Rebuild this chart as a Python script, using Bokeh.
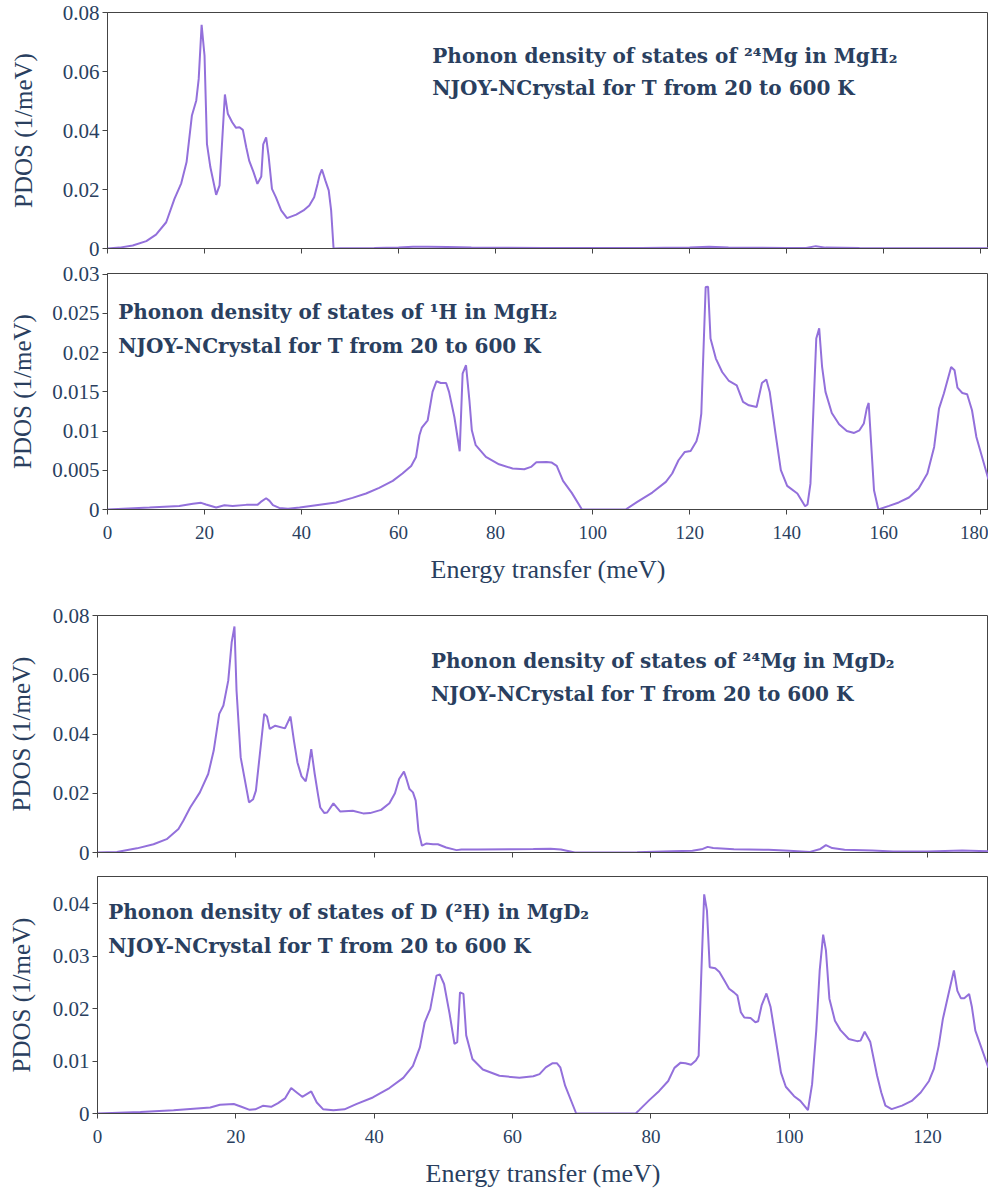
from bokeh.plotting import figure
from bokeh.models import Range1d, FixedTicker, Label
from bokeh.layouts import column
from bokeh.embed import file_html
from bokeh.resources import INLINE

# ---------------- data ----------------
# 24Mg in MgH2
mgh_e = [0, 2.5, 5.2, 8.0, 10.0, 12.1, 13.8, 15.2, 16.3, 17.4,
         18.3, 18.8, 19.4, 20.0, 20.5, 21.2, 22.4, 23.1, 24.2, 24.8,
         25.7, 26.5, 27.2, 27.9, 28.6, 29.2, 30.1, 30.9, 31.7, 32.1,
         32.7, 33.2, 33.9, 34.7, 35.8, 37.0, 38.9, 40.4, 41.6, 42.6,
         43.3, 43.7, 44.2, 44.9, 45.6, 46.1, 46.6, 48, 55, 60,
         63, 66, 70, 75, 90, 110, 120, 124, 128, 140,
         144, 146, 148, 155, 170, 181.6]
mgh_pdos = [0, 0.0003, 0.001, 0.0025, 0.0047, 0.0089, 0.0168, 0.0221, 0.0293, 0.0451,
            0.0502, 0.0575, 0.0758, 0.0654, 0.0355, 0.0276, 0.0182, 0.0214, 0.0522, 0.0457,
            0.0428, 0.0409, 0.0411, 0.0402, 0.0343, 0.0298, 0.0259, 0.0219, 0.0244, 0.0353,
            0.0377, 0.0315, 0.0202, 0.0174, 0.0129, 0.0103, 0.0115, 0.0129, 0.0146, 0.0174,
            0.0219, 0.0247, 0.0268, 0.0231, 0.0197, 0.0129, 0.0, 0.0001, 0.0002, 0.0003,
            0.0006, 0.0006, 0.0005, 0.0003, 0.0002, 0.0002, 0.0003, 0.0006, 0.0003, 0.0002,
            0.0002, 0.0008, 0.0003, 0.0002, 0.0001, 0.0001]

# 1H in MgH2
hh_e = [0, 8.65, 14.8, 17.6, 19.3, 20.3, 22.4, 24.1, 25.8, 28.6,
        30.9, 31.6, 32.7, 33.4, 34.1, 35.4, 37.2, 39.6, 43.0, 47.1,
        50.5, 53.3, 56.0, 58.8, 60.8, 62.6, 63.6, 64.3, 64.8, 66.0,
        67.0, 67.8, 68.7, 69.8, 70.4, 71.5, 72.6, 73.2, 73.9, 74.6,
        75.1, 75.9, 78.0, 80.7, 83.5, 85.9, 87.3, 88.4, 90.5, 91.5,
        92.6, 93.9, 95.7, 97.8, 106.8, 109.2, 112.3, 115.1, 116.4, 117.7,
        119.0, 120.2, 121.4, 121.9, 122.4, 123.3, 123.8, 124.3, 125.4, 126.7,
        128.1, 129.7, 131.0, 132.2, 133.8, 134.9, 135.8, 136.5, 137.7, 138.8,
        140.1, 142.2, 143.8, 144.3, 144.9, 146.1, 146.7, 147.3, 148.0, 149.3,
        150.8, 152.4, 153.9, 155.0, 155.9, 156.5, 156.9, 158.0, 158.9, 161.1,
        163.1, 165.2, 167.2, 169.0, 170.4, 171.4, 172.4, 173.9, 174.6, 175.2,
        176.2, 177.2, 178.2, 179.1, 181.6]
hh_pdos = [0, 0.00025, 0.00046, 0.00072, 0.00085, 0.00063, 0.00025, 0.00055, 0.00046, 0.00059,
           0.00059, 0.00097, 0.00144, 0.0011, 0.00055, 0.0002, 0.0001, 0.00025, 0.00055, 0.0009,
           0.00148, 0.00204, 0.00276, 0.00365, 0.00459, 0.00556, 0.0067, 0.00947, 0.01045, 0.01138,
           0.0150, 0.01635, 0.01614, 0.01614, 0.0150, 0.0118, 0.00743, 0.01733, 0.0184, 0.01393,
           0.0101, 0.0082, 0.0067, 0.00577, 0.00523, 0.00514, 0.00543, 0.00603, 0.00607, 0.0060,
           0.00556, 0.00365, 0.00212, 0.0, 0.0, 0.00097, 0.00216, 0.00352, 0.00459, 0.00628,
           0.00734, 0.00747, 0.0087, 0.0099, 0.01224, 0.02838, 0.0284, 0.0218, 0.01925, 0.01754,
           0.01639, 0.01584, 0.01372, 0.01329, 0.01308, 0.01614, 0.01657, 0.0150, 0.00969, 0.00501,
           0.00301, 0.00204, 0.00042, 0.00064, 0.0033, 0.0218, 0.0231, 0.01818, 0.0150, 0.01231,
           0.01087, 0.01002, 0.00976, 0.0101, 0.01096, 0.01287, 0.01359, 0.00246, 0.0, 0.00046,
           0.0009, 0.00153, 0.00268, 0.00459, 0.00798, 0.01287, 0.01479, 0.01818, 0.01776, 0.01555,
           0.01486, 0.0147, 0.01266, 0.00925, 0.00382]

# 24Mg in MgD2
mgd_e = [0, 2.8, 5.7, 8.1, 10.0, 11.7, 12.4, 13.4, 14.8, 16.0,
         16.8, 17.6, 18.2, 18.9, 19.4, 19.8, 20.1, 20.7, 21.9, 22.5,
         22.9, 24.1, 24.5, 24.9, 25.7, 27.1, 27.9, 28.4, 28.9, 29.5,
         30.1, 30.5, 30.9, 31.4, 31.9, 32.2, 32.8, 33.2, 34.1, 35.1,
         36.9, 38.4, 39.4, 41.0, 42.2, 43.0, 43.6, 44.3, 44.6, 45.1,
         45.6, 46.0, 46.4, 46.9, 47.5, 48.5, 49.2, 50.4, 51.9, 52.6,
         55, 60, 63, 65.5, 67, 69, 78, 83, 86, 87.5,
         88.2, 89, 92, 97, 100, 103, 104.5, 105.3, 106.2, 108,
         112, 115, 120, 125, 128.8]
mgd_pdos = [0, 0.0002, 0.0014, 0.0028, 0.0045, 0.0079, 0.0107, 0.0152, 0.0203, 0.0265,
            0.0344, 0.0468, 0.0496, 0.058, 0.071, 0.0763, 0.0546, 0.0321, 0.0169, 0.018,
            0.0209, 0.0468, 0.0459, 0.0417, 0.0428, 0.0419, 0.0459, 0.0377, 0.0304, 0.0257,
            0.024, 0.0287, 0.0349, 0.0265, 0.0192, 0.0152, 0.0133, 0.0135, 0.0166, 0.0138,
            0.0141, 0.0132, 0.0133, 0.0144, 0.0166, 0.02, 0.0248, 0.0273, 0.0253, 0.0214,
            0.0203, 0.0175, 0.0073, 0.0023, 0.003, 0.0028, 0.0028, 0.0017, 0.0008, 0.001,
            0.001, 0.0011, 0.0012, 0.0013, 0.001, 0.0, 0.0001, 0.0004, 0.0006, 0.0012,
            0.0019, 0.0015, 0.0011, 0.0009, 0.0006, 0.0002, 0.0012, 0.0025, 0.0015, 0.0009,
            0.0007, 0.0003, 0.0003, 0.0007, 0.0004]

# D in MgD2
dd_e = [0, 6.2, 11.0, 16.3, 17.7, 19.7, 20.8, 22.0, 22.8, 23.9,
        25.1, 26.1, 27.1, 28.0, 28.8, 29.6, 30.9, 31.7, 32.6, 34.1,
        35.7, 37.4, 39.8, 42.2, 44.2, 45.6, 46.6, 47.3, 48.1, 49.0,
        49.5, 50.1, 50.9, 51.6, 52.0, 52.4, 52.9, 53.3, 54.2, 55.7,
        58.1, 61.0, 63.0, 63.9, 64.8, 65.8, 66.4, 66.9, 67.6, 69.2,
        77.8, 78.3, 79.8, 81.2, 82.5, 83.4, 84.3, 85.0, 85.8, 86.5,
        86.9, 87.3, 87.7, 88.1, 88.5, 89.3, 89.9, 90.6, 91.3, 92.0,
        92.5, 93.0, 93.5, 94.4, 95.1, 95.5, 96.0, 96.7, 97.3, 98.0,
        98.8, 99.5, 100.7, 101.6, 102.7, 103.3, 103.9, 104.4, 104.9, 105.3,
        105.8, 106.6, 107.4, 108.6, 109.8, 110.3, 110.9, 111.7, 112.7, 113.3,
        113.9, 114.8, 116.3, 117.7, 119.0, 120.2, 120.9, 121.6, 122.2, 123.0,
        123.8, 124.3, 124.8, 125.3, 126.0, 126.4, 126.9, 128.8]
dd_pdos = [0, 0.0003, 0.00064, 0.00115, 0.00166, 0.0018, 0.00128, 0.0007, 0.0008, 0.00147,
           0.00128, 0.00198, 0.00287, 0.00485, 0.00402, 0.00319, 0.0042, 0.0021, 0.00083, 0.00064,
           0.0008, 0.0018, 0.00306, 0.00485, 0.0068, 0.0091, 0.0126, 0.0174, 0.0199, 0.0263,
           0.0265, 0.0247, 0.019, 0.0133, 0.0136, 0.0231, 0.0228, 0.0149, 0.0104, 0.0084,
           0.0072, 0.0068, 0.0071, 0.0075, 0.0088, 0.0096, 0.0096, 0.0088, 0.0053, 0.0,
           0.0, 0.00064, 0.0026, 0.0043, 0.0062, 0.0087, 0.0097, 0.0096, 0.0093, 0.0101,
           0.011, 0.0273, 0.0418, 0.0387, 0.0279, 0.0277, 0.027, 0.0254, 0.0238, 0.0231,
           0.0225, 0.0193, 0.0183, 0.0182, 0.0174, 0.0176, 0.0206, 0.0229, 0.0203, 0.0145,
           0.0078, 0.0051, 0.0033, 0.0024, 0.00064, 0.0056, 0.0158, 0.0273, 0.0341, 0.0311,
           0.0219, 0.0177, 0.0159, 0.0142, 0.0138, 0.0139, 0.0156, 0.0137, 0.0072, 0.004,
           0.0015, 0.00083, 0.0015, 0.0024, 0.004, 0.0062, 0.0085, 0.0129, 0.018, 0.0227,
           0.0273, 0.0234, 0.022, 0.022, 0.0228, 0.0203, 0.0158, 0.0087]

# ticks and labels
x_ticks_h = [0, 20, 40, 60, 80, 100, 120, 140, 160, 180]
x_ticks_d = [0, 20, 40, 60, 80, 100, 120]
y_ticks_mg = [0, 0.02, 0.04, 0.06, 0.08]
y_labels_mg = ["0", "0.02", "0.04", "0.06", "0.08"]
y_ticks_h = [0, 0.005, 0.01, 0.015, 0.02, 0.025, 0.03]
y_labels_h = ["0", "0.005", "0.01", "0.015", "0.02", "0.025", "0.03"]
y_ticks_d = [0, 0.01, 0.02, 0.03, 0.04]
y_labels_d = ["0", "0.01", "0.02", "0.03", "0.04"]

titles = [
    ("Phonon density of states of \u00b2\u2074Mg in MgH\u2082", "NJOY-NCrystal for T from 20 to 600 K"),
    ("Phonon density of states of \u00b9H in MgH\u2082", "NJOY-NCrystal for T from 20 to 600 K"),
    ("Phonon density of states of \u00b2\u2074Mg in MgD\u2082", "NJOY-NCrystal for T from 20 to 600 K"),
    ("Phonon density of states of D (\u00b2H) in MgD\u2082", "NJOY-NCrystal for T from 20 to 600 K"),
]

XLABEL = "Energy transfer (meV)"
YLABEL = "PDOS (1/meV)"

TEXT = "#2a3f5f"
LINE = "#9370db"
FRAME = "#444444"
ANN_FONT = "DejaVu Serif"
ANN_SIZE = "20px"


def make_fig(xs, ys, xmax, ymax, yticks, ylabels, xticks, show_xlab,
             left, top, bottom, fw, fh, ystand, ann, ann_x, ann_y1, ann_y2):
    p = figure(output_backend="svg", toolbar_location=None,
               frame_width=fw, frame_height=fh,
               x_range=Range1d(0, xmax), y_range=Range1d(0, ymax),
               min_border_left=left, min_border_right=0,
               min_border_top=top, min_border_bottom=bottom)
    p.grid.visible = False
    p.outline_line_color = FRAME
    p.outline_line_width = 1
    p.border_fill_color = "white"
    p.background_fill_color = "white"
    for ax in (p.xaxis[0], p.yaxis[0]):
        ax.axis_line_color = FRAME
        ax.major_tick_line_color = FRAME
        ax.major_tick_out = 5
        ax.major_tick_in = 0
        ax.minor_tick_line_color = None
        ax.major_label_text_font = "Liberation Serif"
        ax.major_label_text_color = TEXT
        ax.axis_label_text_font = "Liberation Serif"
        ax.axis_label_text_font_style = "normal"
        ax.axis_label_text_color = TEXT
    p.xaxis.major_label_text_font_size = "19px"
    p.yaxis.major_label_text_font_size = "21px"
    p.xaxis.axis_label_text_font_size = "26px"
    p.yaxis.axis_label_text_font_size = "25px"
    p.xaxis.ticker = FixedTicker(ticks=xticks)
    p.yaxis.ticker = FixedTicker(ticks=yticks)
    p.yaxis.major_label_overrides = {t: l for t, l in zip(yticks, ylabels)}
    p.yaxis.major_label_standoff = 3
    p.yaxis.axis_label = YLABEL
    p.yaxis.axis_label_standoff = ystand
    if show_xlab:
        p.xaxis.axis_label = XLABEL
        p.xaxis.major_label_standoff = 11
        p.xaxis.axis_label_standoff = 13
    else:
        p.xaxis.major_label_overrides = {t: "" for t in xticks}
        p.xaxis.major_label_standoff = 0
    p.line(xs, ys, line_color=LINE, line_width=2)
    for txt, yy in ((ann[0], ann_y1), (ann[1], ann_y2)):
        p.add_layout(Label(x=ann_x, y=yy, text=txt, text_font=ANN_FONT,
                           text_font_size=ANN_SIZE, text_font_style="bold",
                           text_color=TEXT, text_baseline="alphabetic"))
    return p


f1 = make_fig(mgh_e, mgh_pdos, 181.6, 0.08, y_ticks_mg, y_labels_mg, x_ticks_h, False,
              107, 12, 12, 881, 236, 23, titles[0], 66.95, 0.06542, 0.05424)
f2 = make_fig(hh_e, hh_pdos, 181.6, 0.0301, y_ticks_h, y_labels_h, x_ticks_h, True,
              107, 13, 90, 881, 236, 13, titles[1], 2.2, 0.02515, 0.02082)
f3 = make_fig(mgd_e, mgd_pdos, 128.8, 0.08, y_ticks_mg, y_labels_mg, x_ticks_d, False,
              97, 16, 12, 891, 237, 15, titles[2], 48.2, 0.06479, 0.05363)
f4 = make_fig(dd_e, dd_pdos, 128.8, 0.0452, y_ticks_d, y_labels_d, x_ticks_d, True,
              97, 12, 76, 891, 237, 15, titles[3], 1.55, 0.03835, 0.03185)

layout = column(column(f1, f2, spacing=0), column(f3, f4, spacing=0), spacing=0)
open("out.html", "w").write(file_html(layout, INLINE))
